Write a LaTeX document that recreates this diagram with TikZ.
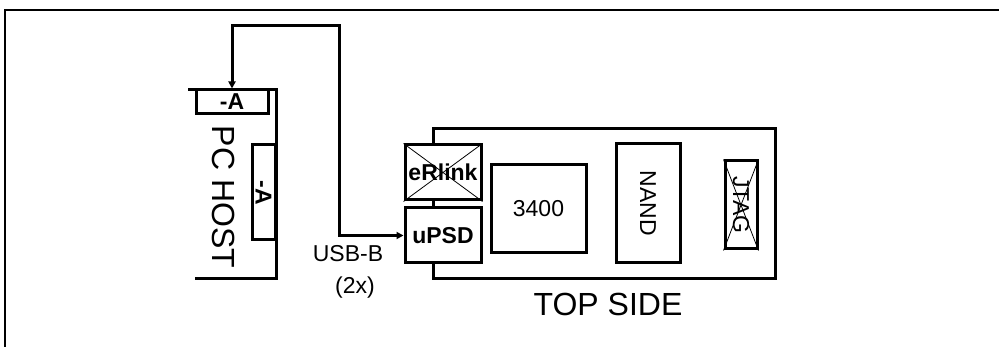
\documentclass[tikz,border=0pt]{standalone}
\usepackage{fontspec}
\setmainfont{Liberation Sans}
\usepackage{tikz}
\usetikzlibrary{arrows.meta,positioning}

\begin{document}
\begin{tikzpicture}[
    x=1pt,y=-1pt,
    >={Triangle[length=7pt,width=7pt]},
    part/.style={draw,line width=3pt,fill=white,inner sep=0pt,font=\fontsize{23}{25}\selectfont},
    plug/.style={part,font=\fontsize{23}{25}\selectfont\bfseries},
    nolink/.style={line width=0.8pt},
    cable/.style={<->,line width=3pt},
    tag/.style={inner sep=0pt,font=\fontsize{23}{25}\selectfont}
  ]
    \useasboundingbox (0,0) rectangle (999,347);
    % figure frame, cut at right and bottom
    \draw[line width=2.2pt] (5,347) -- (5,10) -- (999,10);

    % PC host
    \draw[line width=3pt] (188,90) -- (276,90) -- (276,279) -- (195,279);
    \node[plug,minimum width=72,minimum height=24] (topa) at (232,102) {-A};
    \node[plug,rotate=-90,minimum width=95,minimum height=23] (sidea) at (263.5,192.5) {-A};
    \node[tag,rotate=-90,font=\fontsize{32}{34}\selectfont] (host) at (224,197) {PC HOST};

    % board, top side
    \node[draw,line width=3pt,minimum width=342,minimum height=150] (board) at (604,204) {};
    \node[plug,minimum width=76,minimum height=55] (erlink) at (443,172.5) {eRlink};
    \node[plug,minimum width=76,minimum height=55] (upsd) at (443,235.5) {uPSD};
    \node[part,minimum width=95,minimum height=88] (chip) at (538.5,209) {3400};
    \node[part,rotate=-90,minimum width=119,minimum height=64] (nand) at (648,203.5) {NAND};
    \node[part,rotate=-90,minimum width=88,minimum height=32] (jtag) at (741,205) {JTAG};
    \draw[nolink] (erlink.north west) -- (erlink.south east);
    \draw[nolink] (erlink.south west) -- (erlink.north east);
    \draw[nolink] (jtag.north west) -- (jtag.south east);
    \draw[nolink] (jtag.south west) -- (jtag.north east);
    \node[tag,font=\fontsize{32}{34}\selectfont] (side) at (608,304) {TOP SIDE};

    % USB cable
    \coordinate (turn) at (339,26);
    \draw[cable] (upsd.west) -| (turn) -| (topa.north);
    \node[tag] (usb) at (348,254) {USB-B};
    \node[tag] (twox) at (355,288) {(2x)};
  \end{tikzpicture}
\end{document}
